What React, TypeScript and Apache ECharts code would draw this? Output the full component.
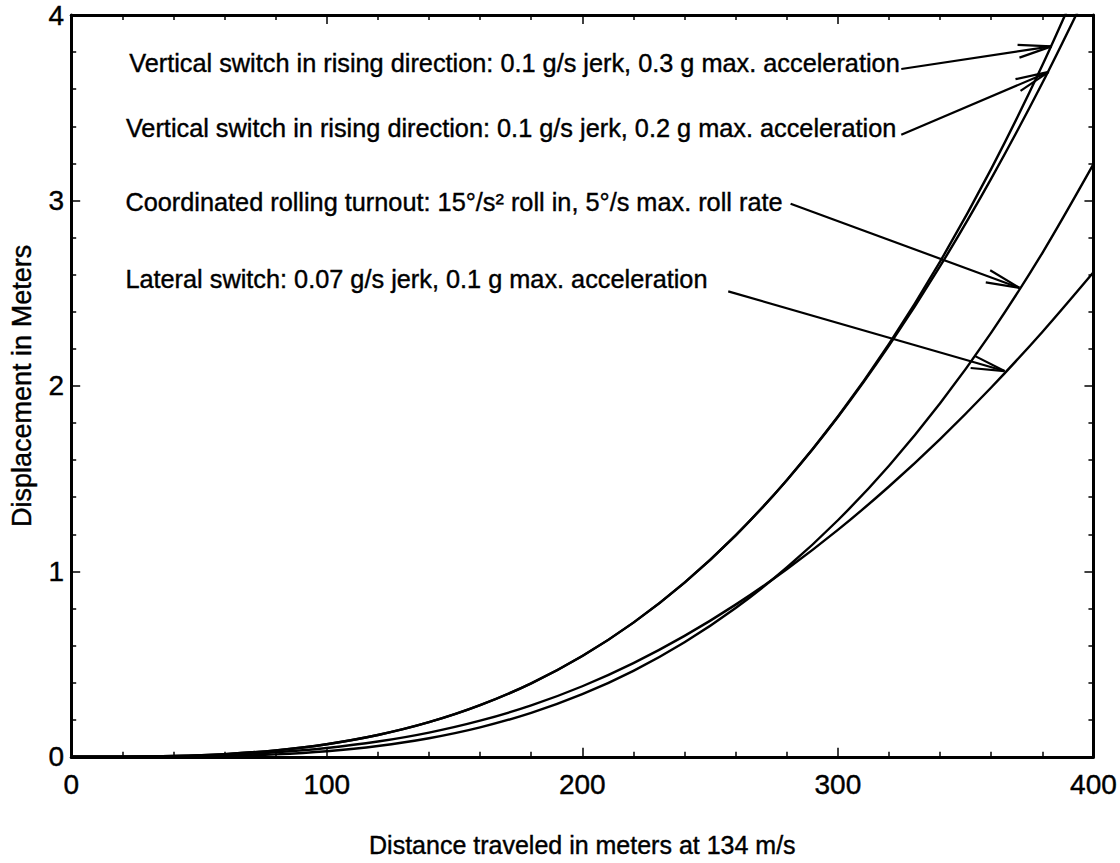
import React, { useEffect, useRef } from "react";
import * as echarts from "echarts";

// Distance travelled (m)
const distance = [0, 20, 40, 60, 80, 100, 120, 140, 160, 180, 200, 220, 240, 260, 280, 300, 320, 340, 360, 380, 400];
// Displacement (m) for each case
const vertical03 = [0, 0.0005, 0.0044, 0.0147, 0.0348, 0.068, 0.1174, 0.1865, 0.2783, 0.3963, 0.5436, 0.7236, 0.9394, 1.1943, 1.4917, 1.8347, 2.2267, 2.6708, 3.1704, 3.7288, 4.349];
const vertical02 = [0, 0.0005, 0.0044, 0.0147, 0.0348, 0.068, 0.1174, 0.1865, 0.2783, 0.3963, 0.5436, 0.7236, 0.9394, 1.1943, 1.4917, 1.8325, 2.2173, 2.6454, 3.1176, 3.6331, 4.1928];
const rolling = [0, 0.0001, 0.0009, 0.0043, 0.0131, 0.0301, 0.0581, 0.1001, 0.1587, 0.237, 0.3376, 0.4635, 0.6174, 0.8021, 1.0206, 1.2756, 1.5698, 1.9063, 2.2875, 2.7165, 3.1955];
const lateral = [0, 0.0004, 0.003, 0.0103, 0.0244, 0.0476, 0.0822, 0.1305, 0.1948, 0.2774, 0.3805, 0.5054, 0.652, 0.8206, 1.0112, 1.2234, 1.4576, 1.7135, 1.9914, 2.291, 2.6127];

const xTitle = "Distance traveled in meters at 134 m/s";
const yTitle = "Displacement in Meters";

const labels = [
  "Vertical switch in rising direction: 0.1 g/s jerk, 0.3 g max. acceleration",
  "Vertical switch in rising direction: 0.1 g/s jerk, 0.2 g max. acceleration",
  "Coordinated rolling turnout: 15°/s² roll in, 5°/s max. roll rate",
  "Lateral switch: 0.07 g/s jerk, 0.1 g max. acceleration",
];

// annotation anchors in data coordinates
const annotations = [
  { at: [22.7, 3.743], from: [324.8, 3.709], to: [383.6, 3.831] },
  { at: [21.4, 3.393], from: [324.8, 3.354], to: [382.5, 3.693] },
  { at: [21.2, 2.99], from: [281.5, 2.982], to: [371.0, 2.529] },
  { at: [21.2, 2.577], from: [257.1, 2.51], to: [365.2, 2.08] },
];

const FONT = '"Liberation Sans", Arial, Helvetica, sans-serif';

export default function App() {
  const ref = useRef<HTMLDivElement>(null);
  useEffect(() => {
    document.body.style.margin = "0";
    if (!ref.current) return;
    const chart = echarts.init(ref.current, undefined, { renderer: "svg" });
    const axisCommon = {
      type: "value" as const,
      splitLine: { show: false },
      axisLine: { show: true, onZero: false, lineStyle: { color: "#000", width: 3 } },
      axisTick: { show: true, inside: true, length: 9, lineStyle: { color: "#000", width: 1.5 } },
      minorTick: { show: true, splitNumber: 5, length: 5, lineStyle: { color: "#000", width: 1.5 } },
    };
    const mk = (vals: number[]) => distance.map((d, i) => [d, vals[i]]);
    const line = (name: string, vals: number[]) => ({
      name,
      type: "line",
      data: mk(vals),
      symbol: "none",
      smooth: 0.3,
      clip: true,
      lineStyle: { color: "#000", width: 2.4 },
      itemStyle: { color: "#000" },
    });
    const heavy = { textBorderColor: "#000", textBorderWidth: 0.4 };
    chart.setOption({
      animation: false,
      backgroundColor: "#fff",
      textStyle: { fontFamily: FONT },
      grid: { left: 70, right: 24, top: 15, bottom: 105, show: false },
      xAxis: [
        {
          ...axisCommon,
          min: 0,
          max: 400,
          interval: 100,
          position: "bottom",
          axisLabel: { color: "#000", fontSize: 28, margin: 14, fontFamily: FONT, ...heavy },
          name: xTitle,
          nameLocation: "middle",
          nameGap: 76,
          nameTextStyle: { color: "#000", fontSize: 25, fontFamily: FONT, ...heavy },
        },
        {
          ...axisCommon,
          min: 0,
          max: 400,
          interval: 100,
          position: "top",
          axisLabel: { show: false },
        },
      ],
      yAxis: [
        {
          ...axisCommon,
          min: 0,
          max: 4,
          interval: 1,
          position: "left",
          axisLabel: { color: "#000", fontSize: 28, margin: 7, fontFamily: FONT, ...heavy },
          name: yTitle,
          nameLocation: "middle",
          nameGap: 36,
          nameRotate: 90,
          nameTextStyle: { color: "#000", fontSize: 27, fontFamily: FONT, ...heavy },
        },
        {
          ...axisCommon,
          min: 0,
          max: 4,
          interval: 1,
          position: "right",
          axisLabel: { show: false },
        },
      ],
      series: [
        line("v03", vertical03),
        line("v02", vertical02),
        line("roll", rolling),
        line("lateral", lateral),
      ],
    });

    const toPx = (p: number[]) => chart.convertToPixel({ xAxisIndex: 0, yAxisIndex: 0 }, p) as number[];
    const graphics: any[] = [];
    annotations.forEach((a, i) => {
      const at = toPx(a.at);
      const s = toPx(a.from);
      const t = toPx(a.to);
      graphics.push({
        type: "text",
        x: at[0],
        y: at[1],
        style: {
          text: labels[i],
          fill: "#000",
          fontSize: 25.3,
          fontFamily: FONT,
          textAlign: "left",
          verticalAlign: "middle",
          textVerticalAlign: "middle",
          stroke: "#000",
          lineWidth: 0.4,
        },
      });
      graphics.push({
        type: "line",
        shape: { x1: s[0], y1: s[1], x2: t[0], y2: t[1] },
        style: { stroke: "#000", lineWidth: 2.2 },
      });
      const ang = Math.atan2(s[1] - t[1], s[0] - t[0]);
      const len = 34;
      [0.19, -0.19].forEach((d) => {
        graphics.push({
          type: "line",
          shape: {
            x1: t[0],
            y1: t[1],
            x2: t[0] + len * Math.cos(ang + d),
            y2: t[1] + len * Math.sin(ang + d),
          },
          style: { stroke: "#000", lineWidth: 2.2 },
        });
      });
    });
    chart.setOption({ graphic: graphics });

    return () => chart.dispose();
  }, []);
  return <div ref={ref} style={{ width: 1120, height: 863 }} />;
}
